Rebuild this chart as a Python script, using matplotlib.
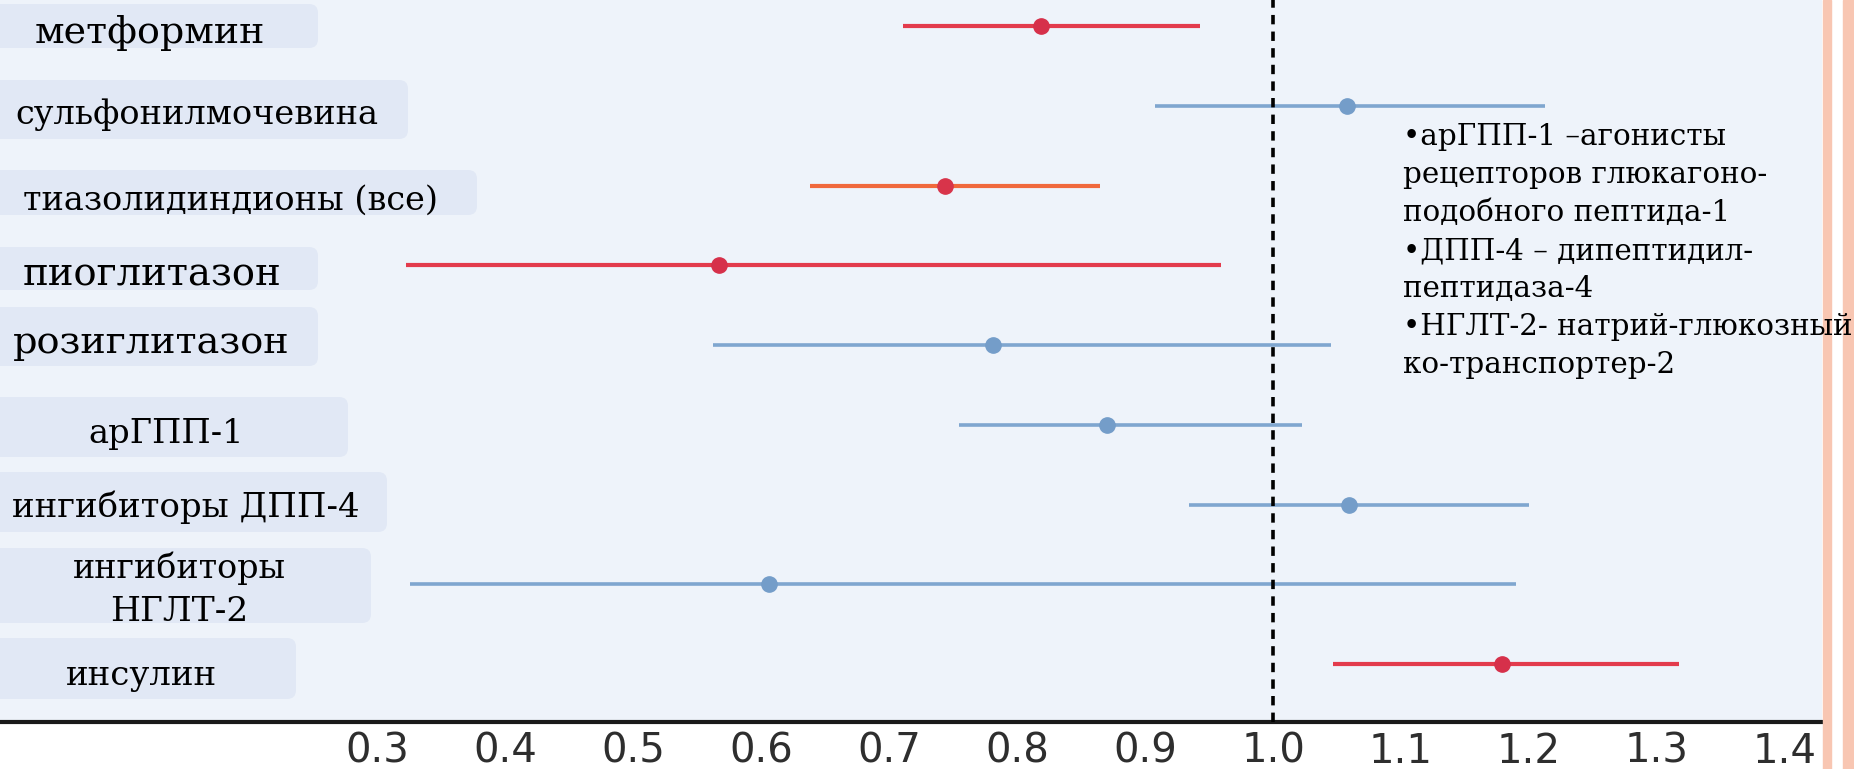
import matplotlib
matplotlib.use("Agg")
import matplotlib.pyplot as plt
from matplotlib.patches import FancyBboxPatch, Rectangle

# drug classes, top to bottom
drugs = ["метформин", "сульфонилмочевина", "тиазолидиндионы (все)", "пиоглитазон",
         "розиглитазон", "арГПП-1", "ингибиторы ДПП-4", "ингибиторы\nНГЛТ-2", "инсулин"]
point = [0.819, 1.058, 0.744, 0.567, 0.781, 0.870, 1.059, 0.606, 1.179]
low = [0.711, 0.908, 0.638, 0.323, 0.5625, 0.755, 0.934, 0.326, 1.047]
high = [0.943, 1.2125, 0.865, 0.959, 1.045, 1.023, 1.200, 1.190, 1.317]
kind = ["red", "blue", "orange", "red", "blue", "blue", "blue", "blue", "red"]

ticks = [0.3, 0.4, 0.5, 0.6, 0.7, 0.8, 0.9, 1.0, 1.1, 1.2, 1.3, 1.4]
tick_labels = ["0.3", "0.4", "0.5", "0.6", "0.7", "0.8", "0.9", "1.0", "1.1", "1.2", "1.3", "1.4"]

notes = ["•арГПП-1 –агонисты", "рецепторов глюкагоно-", "подобного пептида-1",
         "•ДПП-4 – дипептидил-", "пептидаза-4", "•НГЛТ-2- натрий-глюкозный",
         "ко-транспортер-2"]

line_col = {"red": "#E33B4C", "blue": "#7FA6CF", "orange": "#F0683C"}
dot_col = {"red": "#D6304A", "blue": "#749DC9", "orange": "#D8344A"}

W, H = 1854, 769
fig = plt.figure(figsize=(W / 100, H / 100), dpi=100, facecolor="white")

# forest plot area, pixels 0..1822 wide, 0..722 tall
ax = fig.add_axes([0, (H - 722) / H, 1822 / W, 722 / H])
ax.set_facecolor("#EEF3FA")
ax.set_xlim(0.3 - 377 / 1280, 0.3 + 1445 / 1280)
ax.set_ylim((722 - 26) / 79.75, -26 / 79.75)

rows = list(range(len(drugs)))
for i in rows:
    lw = 3.0 if kind[i] != "blue" else 2.6
    ax.hlines(i, low[i], high[i], color=line_col[kind[i]], lw=lw, zorder=2)
    ax.plot(point[i], i, "o", ms=11, color=dot_col[kind[i]], zorder=3)

ax.axvline(1.0, color="black", ls=(0, (2.6, 2.0)), lw=2.6, zorder=4)

for s in ["top", "left", "right"]:
    ax.spines[s].set_visible(False)
ax.spines["bottom"].set_linewidth(3)
ax.spines["bottom"].set_color("#1a1a1a")
ax.set_yticks([])
ax.set_xticks(ticks)
ax.set_xticklabels(tick_labels, fontsize=29, color="#2e2e2e", family="DejaVu Sans")
ax.tick_params(axis="x", length=0, pad=7)

# overlay in pixel coordinates (y down) for label boxes, notes and the side stripes
ov = fig.add_axes([0, 0, 1, 1])
ov.set_xlim(0, W)
ov.set_ylim(H, 0)
ov.axis("off")
ov.patch.set_alpha(0)

ov.add_patch(Rectangle((1823, 0), 8, H, color="#F8C6B2", zorder=1))
ov.add_patch(Rectangle((1843, 0), 11, H, color="#F8C6B2", zorder=1))

# label boxes: right edge, top, bottom
boxes = [(318, 4, 48), (408, 80, 139), (477, 170, 215), (318, 247, 290), (318, 307, 366),
         (348, 397, 457), (387, 472, 532), (371, 548, 623), (296, 638, 699)]
# per text line: anchor x, baseline, target width, alignment
text_pos = [[(35, 43, 230, "left")], [(15, 124, 363, "left")], [(23, 210, 415, "left")],
            [(23, 285, 259, "left")], [(13, 353, 277, "left")], [(166, 443, 155, "center")],
            [(12, 517, 348, "left")], [(179, 578, 213, "center"), (179, 621, 138, "center")],
            [(141, 685, 152, "center")]]

fig.canvas.draw()
renderer = fig.canvas.get_renderer()

for (right, top, bottom), lines_pos, name in zip(boxes, text_pos, drugs):
    ov.add_patch(FancyBboxPatch((-20, top), right + 20, bottom - top,
                                boxstyle="round,pad=0,rounding_size=9",
                                fc="#E1E8F5", ec="none", zorder=2))
    for (tx, base, tw, ha), part in zip(lines_pos, name.split("\n")):
        t = ov.text(tx, base, part, ha=ha, va="baseline", fontsize=20,
                    family="DejaVu Serif", color="black", zorder=3)
        bb = t.get_window_extent(renderer)
        t.set_fontsize(20 * tw / bb.width)

note_texts = []
for k, line in enumerate(notes):
    t = ov.text(1403, 145 + 38 * k, line, ha="left", va="baseline", fontsize=20,
                family="DejaVu Serif", color="black", zorder=5)
    note_texts.append(t)
bb = note_texts[5].get_window_extent(renderer)
size = 20 * 450 / bb.width
for t in note_texts:
    t.set_fontsize(size)

fig.savefig("out.png", dpi=100, facecolor="white")
